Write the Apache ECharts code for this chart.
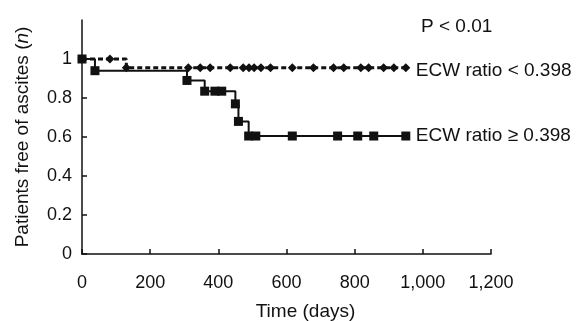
<!DOCTYPE html>
<html>
<head>
<meta charset="utf-8">
<script src="https://cdn.jsdelivr.net/npm/echarts@6/dist/echarts.min.js"></script>
<style>
  html, body { margin: 0; padding: 0; background: #fff; }
  #chart { width: 585px; height: 321px; }
</style>
</head>
<body>
<div id="chart"></div>
<script>
// ECW ratio < 0.398 (dashed curve)
const lowTimes = [0, 82, 130, 312, 347, 376, 435, 473, 490, 505, 525, 553, 617, 679, 738, 768, 818, 841, 885, 915, 950]
const lowSurv = [1, 1, 0.955, 0.955, 0.955, 0.955, 0.955, 0.955, 0.955, 0.955, 0.955, 0.955, 0.955, 0.955, 0.955, 0.955, 0.955, 0.955, 0.955, 0.955, 0.955]

// ECW ratio >= 0.398 (solid curve)
const highTimes = [0, 38, 308, 360, 390, 410, 450, 459, 489, 510, 617, 750, 809, 856, 950]
const highSurv = [1, 0.94, 0.89, 0.835, 0.835, 0.835, 0.77, 0.68, 0.605, 0.605, 0.605, 0.605, 0.605, 0.605, 0.605]

const yTicks = [0, 0.2, 0.4, 0.6, 0.8, 1]

const font = 'Arial, "Liberation Sans", sans-serif'
const chart = echarts.init(document.getElementById('chart'))

const pairs = (t, s) => t.map((x, i) => [x, s[i]])

chart.setOption({
  animation: false,
  textStyle: { fontFamily: font },
  title: {
    text: 'P < 0.01',
    left: 416, top: 12,
    textStyle: { fontSize: 19, fontWeight: 'normal', color: '#111', fontFamily: font }
  },
  grid: { left: 82, right: 94, top: 20, bottom: 67, outerBoundsMode: 'none' },
  xAxis: {
    type: 'value', min: 0, max: 1200, interval: 200,
    name: 'Time (days)', nameLocation: 'middle', nameGap: 48,
    nameTextStyle: { fontSize: 19, color: '#111', padding: [0, 0, 0, 38] },
    axisLine: { lineStyle: { color: '#111', width: 1.5 } },
    axisTick: { inside: true, length: 5, lineStyle: { color: '#111', width: 1.5 } },
    axisLabel: { fontSize: 18, color: '#111', margin: 20 },
    splitLine: { show: false }
  },
  yAxis: {
    type: 'value', min: 0, max: 1.2, interval: 0.2,
    name: '{a|Patients free of ascites (}{i|n}{a|)}', nameLocation: 'middle', nameGap: 50,
    nameTextStyle: {
      rich: {
        a: { fontSize: 19, color: '#111', fontFamily: font },
        i: { fontSize: 19, color: '#111', fontStyle: 'italic', fontFamily: font }
      }
    },
    axisLine: { show: true, lineStyle: { color: '#111', width: 1.5 } },
    axisTick: { show: true, inside: true, length: 5, customValues: yTicks, lineStyle: { color: '#111', width: 1.5 } },
    axisLabel: {
      fontSize: 18, color: '#111', margin: 10, customValues: yTicks,
      formatter: v => String(+v.toFixed(1))
    },
    splitLine: { show: false }
  },
  series: [
    {
      name: 'ECW ratio < 0.398',
      type: 'line', step: 'end',
      data: pairs(lowTimes, lowSurv),
      symbol: 'diamond', symbolSize: 9,
      itemStyle: { color: '#111' },
      lineStyle: { color: '#111', width: 3, type: [5, 3] },
      endLabel: { show: true, formatter: '{a}', distance: 10, offset: [0, 3], fontSize: 19, color: '#111', fontFamily: font }
    },
    {
      name: 'ECW ratio \u2265 0.398',
      type: 'line', step: 'end',
      data: pairs(highTimes, highSurv),
      symbol: 'rect', symbolSize: 9,
      itemStyle: { color: '#111' },
      lineStyle: { color: '#111', width: 2 },
      endLabel: { show: true, formatter: '{a}', distance: 10, fontSize: 19, color: '#111', fontFamily: font }
    }
  ]
})
</script>
</body>
</html>
